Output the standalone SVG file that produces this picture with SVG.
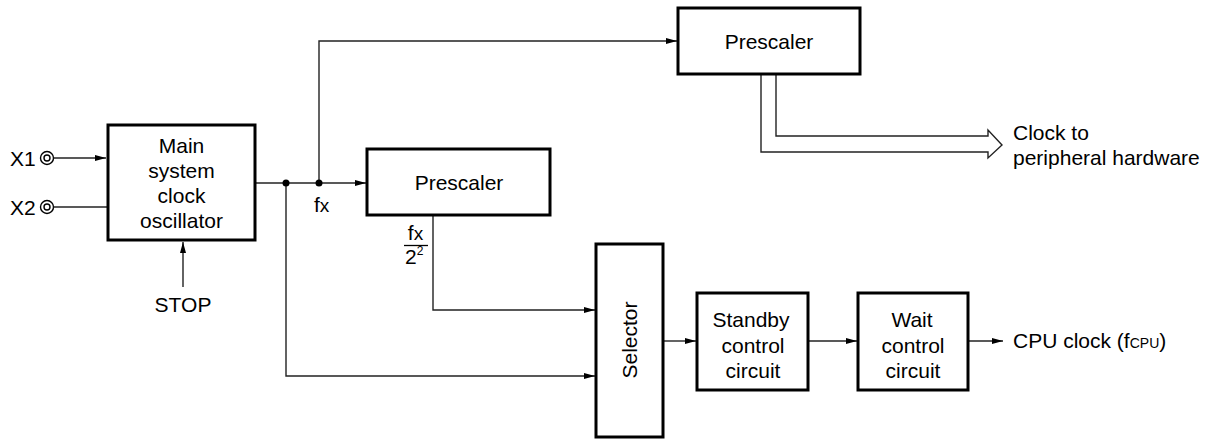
<svg xmlns="http://www.w3.org/2000/svg" width="1210" height="439" viewBox="0 0 1210 439">
<style>
  .box { fill: #fff; stroke: #000; stroke-width: 3; }
  .ln { fill: none; stroke: #222; stroke-width: 1.4; }
  .t { font-family: "Liberation Sans", Arial, sans-serif; font-size: 21px; fill: #000; }
  .c { text-anchor: middle; }
  .dot { fill: #000; }
  .ring { fill: none; stroke: #000; stroke-width: 1.4; }
</style>
<defs>
  <marker id="arr" markerUnits="userSpaceOnUse" markerWidth="12" markerHeight="8" refX="11" refY="4" orient="auto">
    <path d="M0,1 L11,4 L0,7 Z" fill="#000"/>
  </marker>
</defs>

<g id="connectors">
  <!-- inputs -->
  <circle class="ring" cx="47" cy="158" r="6.5"/>
  <circle class="ring" cx="47" cy="158" r="3"/>
  <circle class="ring" cx="47" cy="207" r="6.5"/>
  <circle class="ring" cx="47" cy="207" r="3"/>
  <line class="ln" x1="53.5" y1="158" x2="106" y2="158" marker-end="url(#arr)"/>
  <line class="ln" x1="53.5" y1="207" x2="107" y2="207"/>
  <line class="ln" x1="183" y1="287" x2="183" y2="242" marker-end="url(#arr)"/>
  <!-- oscillator output -->
  <line class="ln" x1="256" y1="183" x2="366" y2="183" marker-end="url(#arr)"/>
  <polyline class="ln" points="319,183 319,41 677,41" marker-end="url(#arr)"/>
  <polyline class="ln" points="286,183 286,376 595,376" marker-end="url(#arr)"/>
  <circle class="dot" cx="286" cy="183" r="3.5"/>
  <circle class="dot" cx="319" cy="183" r="3.5"/>
  <!-- middle prescaler to selector -->
  <polyline class="ln" points="433,216 433,310 595,310" marker-end="url(#arr)"/>
  <!-- selector chain -->
  <line class="ln" x1="664" y1="341" x2="696" y2="341" marker-end="url(#arr)"/>
  <line class="ln" x1="809" y1="341" x2="857" y2="341" marker-end="url(#arr)"/>
  <line class="ln" x1="969" y1="341" x2="1003" y2="341" marker-end="url(#arr)"/>
  <!-- double arrow to peripheral -->
  <path class="ln" d="M761,75 L761,152 L988,152 L988,158 L1002,145 L988,130 L988,136 L776,136 L776,75"/>
</g>

<g id="main-osc">
  <rect class="box" x="108" y="125" width="147" height="115"/>
  <text class="t c" x="181.5" y="153">Main</text>
  <text class="t c" x="181.5" y="178">system</text>
  <text class="t c" x="181.5" y="203">clock</text>
  <text class="t c" x="181.5" y="228">oscillator</text>
</g>

<g id="labels-in">
  <text class="t" x="10" y="166">X1</text>
  <text class="t" x="10" y="215">X2</text>
  <text class="t c" x="183" y="312">STOP</text>
  <text class="t" x="314" y="212">f<tspan font-size="19">x</tspan></text>
</g>

<g id="prescaler-top">
  <rect class="box" x="678" y="8" width="182" height="66"/>
  <text class="t c" x="769" y="49">Prescaler</text>
</g>

<g id="prescaler-mid">
  <rect class="box" x="367" y="149" width="183" height="66"/>
  <text class="t c" x="459" y="190">Prescaler</text>
</g>

<g id="fraction">
  <text class="t c" x="415.5" y="240">f<tspan font-size="19">x</tspan></text>
  <line x1="404" y1="245.5" x2="428" y2="245.5" stroke="#000" stroke-width="1.3"/>
  <text class="t" x="405" y="264">2<tspan font-size="12" dy="-9">2</tspan></text>
</g>

<g id="selector">
  <rect class="box" x="596" y="244" width="67" height="193"/>
  <text class="t c" transform="translate(637,340) rotate(-90)">Selector</text>
</g>

<g id="standby">
  <rect class="box" x="697" y="293" width="111" height="97"/>
  <text class="t c" x="751" y="327">Standby</text>
  <text class="t c" x="753" y="353">control</text>
  <text class="t c" x="753" y="378">circuit</text>
</g>

<g id="wait">
  <rect class="box" x="858" y="293" width="110" height="97"/>
  <text class="t c" x="912" y="327">Wait</text>
  <text class="t c" x="913" y="353">control</text>
  <text class="t c" x="913" y="378">circuit</text>
</g>

<g id="labels-out">
  <text class="t" x="1013" y="348">CPU clock (f<tspan font-size="14">CPU</tspan>)</text>
  <text class="t" x="1013" y="140">Clock to</text>
  <text class="t" x="1013" y="165">peripheral hardware</text>
</g>
</svg>
